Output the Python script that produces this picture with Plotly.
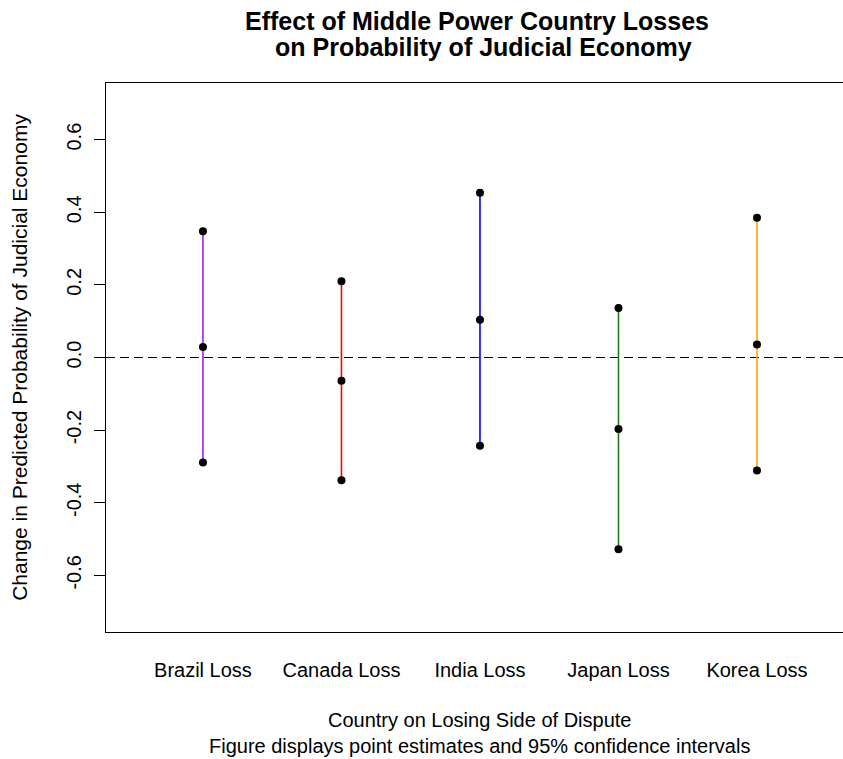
import plotly.graph_objects as go

categories = ["Brazil Loss", "Canada Loss", "India Loss", "Japan Loss", "Korea Loss"]
positions = [1, 2, 3, 4, 5]
estimates = [0.029, -0.064, 0.104, -0.197, 0.036]
lower = [-0.289, -0.338, -0.243, -0.528, -0.311]
upper = [0.348, 0.210, 0.454, 0.136, 0.385]
colors = ["#A020F0", "#FF0000", "#0000FF", "#1F7A1F", "#FFA500"]
ytick_vals = [-0.6, -0.4, -0.2, 0.0, 0.2, 0.4, 0.6]
ytick_text = ["-0.6", "-0.4", "-0.2", "0.0", "0.2", "0.4", "0.6"]
title_line1 = "Effect of Middle Power Country Losses"
title_line2 = "on Probability of Judicial Economy"
xlab = "Country on Losing Side of Dispute<br>Figure displays point estimates and 95% confidence intervals"
ylab = "Change in Predicted Probability of Judicial Economy"

FONT = "Liberation Sans, Arial, Helvetica, sans-serif"
T, B = 83, 632  # plot area top/bottom in px
PH = B - T

def py(p):
    return (B - p) / PH

fig = go.Figure()

# zero reference line
fig.add_trace(go.Scatter(
    x=[0.3, 5.7], y=[0, 0], mode="lines",
    line=dict(color="black", width=1.1, dash="9px,5px"),
    hoverinfo="skip", showlegend=False))

for i in range(len(categories)):
    fig.add_trace(go.Scatter(
        x=[positions[i], positions[i]], y=[lower[i], upper[i]], mode="lines",
        line=dict(color=colors[i], width=1.6), showlegend=False, hoverinfo="skip"))
    fig.add_trace(go.Scatter(
        x=[positions[i]] * 3, y=[lower[i], estimates[i], upper[i]], mode="markers",
        marker=dict(color="black", size=8, line=dict(width=0)),
        showlegend=False, name=categories[i]))

fig.update_layout(
    width=843, height=759, autosize=False,
    margin=dict(l=106, r=0, t=T, b=759 - B),
    paper_bgcolor="white", plot_bgcolor="white",
    font=dict(family=FONT, size=20, color="black"),
    title=dict(
        text="<b>" + title_line1 + "</b>",
        x=477 / 843, xref="container", xanchor="center",
        y=1 - 21 / 759, yref="container", yanchor="middle",
        font=dict(family=FONT, size=25, color="black")),
    xaxis=dict(
        range=[0.3, 5.621], tickmode="array", tickvals=positions, ticktext=categories,
        ticks="", showgrid=False, zeroline=False, showline=True, mirror=True,
        linecolor="black", linewidth=1, ticklabelstandoff=20,
        tickfont=dict(size=20)),
    yaxis=dict(
        range=[-0.756, 0.756], tickmode="array", tickvals=ytick_vals, ticktext=ytick_text,
        ticks="outside", ticklen=11, tickwidth=1, tickcolor="black", tickangle=-90,
        showgrid=False, zeroline=False, showline=True, mirror=False,
        linecolor="black", linewidth=1, ticklabelstandoff=5,
        tickfont=dict(size=20),
        title=dict(text=ylab, font=dict(size=21), standoff=29)),
    annotations=[
        dict(text="<b>" + title_line2 + "</b>",
             x=0.3 + (483 - 106) / 138.5, xref="x", y=py(47), yref="paper",
             yanchor="middle", xanchor="center", showarrow=False,
             font=dict(family=FONT, size=25)),
        dict(text=xlab,
             x=3, xref="x", y=py(732.5), yref="paper", yanchor="middle",
             xanchor="center", showarrow=False, font=dict(family=FONT, size=20)),
    ],
)

post = """
document.documentElement.style.margin='0';
document.documentElement.style.overflow='hidden';
document.body.style.margin='0';
document.body.style.overflow='hidden';
var gd=document.getElementById('{plot_id}');
Plotly.relayout(gd,{width:843,height:759});
"""

fig.write_html("out.html", post_script=post, config={"displayModeBar": False})
